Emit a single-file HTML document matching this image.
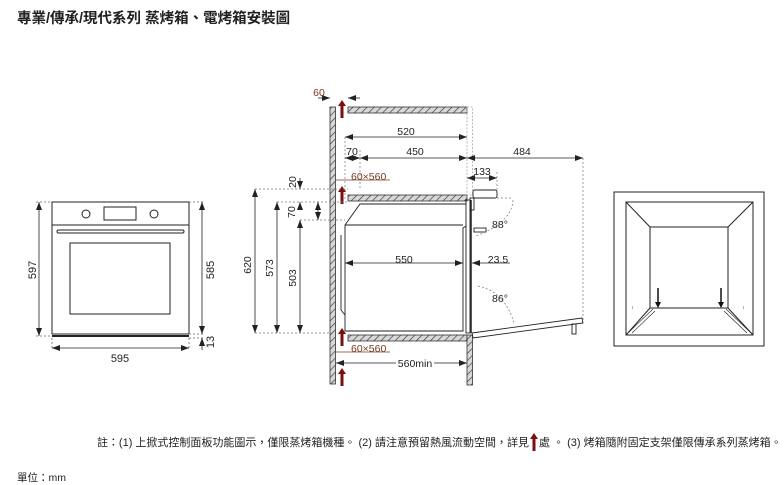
<!DOCTYPE html>
<html><head><meta charset="utf-8"><style>
html,body{margin:0;padding:0;background:#fff;}
svg{display:block;font-family:"Liberation Sans","Noto Sans CJK TC",sans-serif;}
</style></head><body>
<svg width="784" height="485" viewBox="0 0 784 485" xmlns="http://www.w3.org/2000/svg">
<defs>
<pattern id="h" width="5" height="5" patternUnits="userSpaceOnUse" patternTransform="rotate(45)">
<rect width="5" height="5" fill="#d8d8d8"/><line x1="0" y1="0" x2="0" y2="5" stroke="#333" stroke-width="1.3"/></pattern>
<marker id="a" markerWidth="8" markerHeight="6" refX="8" refY="3" orient="auto-start-reverse" markerUnits="userSpaceOnUse"><path d="M0,0 L8,3 L0,6z" fill="#222"/></marker>
<g id="ar"><path d="M-1.5,18 V6 H-4 L0,0 L4,6 H1.5 V18z" fill="#7a0f10"/></g>
</defs>
<text x="17" y="23" font-size="14.5" font-weight="bold" fill="#222" font-family="'Liberation Sans','Noto Sans CJK TC',sans-serif">專業/傳承/現代系列 蒸烤箱、電烤箱安裝圖</text>

<!-- front view -->
<g fill="none" stroke="#222" stroke-width="1">
<rect x="52" y="202" width="137" height="132"/>
<line x1="52" y1="225" x2="189" y2="225"/>
<circle cx="86" cy="214" r="4"/><circle cx="154" cy="214" r="4"/>
<rect x="104" y="207" width="32" height="13"/>
<rect x="57" y="230" width="127" height="3" rx="1.5"/>
<rect x="70" y="243" width="100" height="71"/>
<line x1="52" y1="336" x2="189" y2="336" stroke-width="2"/>
</g>
<g stroke="#666" stroke-width="0.8" stroke-dasharray="2,2" fill="none">
<line x1="36" y1="202" x2="52" y2="202"/><line x1="36" y1="336" x2="52" y2="336"/>
<line x1="189" y1="202" x2="204" y2="202"/><line x1="189" y1="334" x2="204" y2="334"/><line x1="189" y1="338" x2="204" y2="338"/>
<line x1="52" y1="338" x2="52" y2="350"/><line x1="189" y1="338" x2="189" y2="350"/>
</g>
<g stroke="#222" stroke-width="0.8" fill="none">
<line x1="39" y1="202" x2="39" y2="336" marker-start="url(#a)" marker-end="url(#a)"/>
<line x1="202" y1="202" x2="202" y2="334" marker-start="url(#a)" marker-end="url(#a)"/>
<line x1="202" y1="350" x2="202" y2="338" marker-end="url(#a)"/>
<line x1="52" y1="348" x2="189" y2="348" marker-start="url(#a)" marker-end="url(#a)"/>
</g>
<g font-size="11" fill="#222">
<text transform="translate(36,270) rotate(-90)" text-anchor="middle">597</text>
<text transform="translate(214,270) rotate(-90)" text-anchor="middle">585</text>
<text transform="translate(214,342) rotate(-90)" text-anchor="middle">13</text>
<text x="120" y="362" text-anchor="middle">595</text>
</g>

<!-- side view -->
<g stroke="#333" stroke-width="0.8">
<rect x="330" y="107" width="5.5" height="277" fill="url(#h)"/>
<rect x="348" y="107" width="119" height="6" fill="url(#h)"/>
<rect x="348" y="195" width="119" height="6" fill="url(#h)"/>
<rect x="348" y="335" width="119" height="6" fill="url(#h)"/>
<rect x="467" y="335" width="5.5" height="50" fill="url(#h)"/>
</g>
<rect x="467" y="107" width="5.5" height="88" fill="none" stroke="#aaa" stroke-width="0.8" stroke-dasharray="2,1.5"/>
<use href="#ar" x="342" y="100"/><use href="#ar" x="342" y="186"/><use href="#ar" x="342" y="328"/><use href="#ar" x="342" y="368"/>
<!-- oven body -->
<g fill="none" stroke="#222" stroke-width="0.9">
<path d="M345,225 V331 H463 V228 L466,226"/>
<path d="M345,225 L360,204 H466"/>
<path d="M341,235 V310 L345,315"/>
<line x1="345" y1="225" x2="463" y2="225"/>
<rect x="466" y="200" width="4" height="133"/>
<line x1="471" y1="200" x2="471" y2="333" stroke-width="1.5"/>
<rect x="473" y="190" width="24" height="8" rx="2"/>
<rect x="470" y="198" width="4" height="12"/>
<rect x="474" y="228" width="12" height="4"/>
<path d="M472,333 L582,318 L583,323 L473,338z"/>
<rect x="572" y="324" width="4" height="10"/>
</g>
<!-- dashed helpers -->
<g stroke="#777" stroke-width="0.7" stroke-dasharray="2,2" fill="none">
<line x1="255" y1="189" x2="348" y2="189"/><line x1="277" y1="202" x2="348" y2="202"/>
<line x1="300" y1="220" x2="345" y2="220"/><line x1="255" y1="333" x2="335" y2="333"/>
<line x1="583" y1="158" x2="583" y2="320"/>
<line x1="345" y1="137" x2="345" y2="200"/><line x1="360" y1="150" x2="360" y2="190"/>
<line x1="497" y1="172" x2="497" y2="190"/>
<line x1="497" y1="198" x2="513" y2="198"/>
<path d="M513,200 Q512,222 476,236"/>
<path d="M478,286 Q505,292 514,323"/>
</g>
<g stroke="#222" stroke-width="0.8" fill="none">
<line x1="345" y1="137" x2="467" y2="137" marker-start="url(#a)" marker-end="url(#a)"/>
<line x1="345" y1="158" x2="360" y2="158" marker-start="url(#a)" marker-end="url(#a)"/>
<line x1="360" y1="158" x2="467" y2="158" marker-start="url(#a)" marker-end="url(#a)"/>
<line x1="467" y1="158" x2="583" y2="158" marker-start="url(#a)" marker-end="url(#a)"/>
<line x1="467" y1="178" x2="497" y2="178" marker-start="url(#a)" marker-end="url(#a)"/>
<line x1="345" y1="263" x2="463" y2="263" marker-start="url(#a)" marker-end="url(#a)"/>
<line x1="510" y1="263" x2="472" y2="263" marker-end="url(#a)"/>
<line x1="336" y1="363" x2="467" y2="363" marker-start="url(#a)" marker-end="url(#a)"/>
<line x1="255" y1="189" x2="255" y2="333" marker-start="url(#a)" marker-end="url(#a)"/>
<line x1="277" y1="202" x2="277" y2="333" marker-start="url(#a)" marker-end="url(#a)"/>
<line x1="300" y1="220" x2="300" y2="333" marker-start="url(#a)" marker-end="url(#a)"/>
<line x1="300" y1="178" x2="300" y2="189" marker-end="url(#a)"/>
<line x1="300" y1="210" x2="300" y2="202" marker-end="url(#a)"/>
<line x1="318" y1="202" x2="318" y2="220" marker-start="url(#a)" marker-end="url(#a)"/>
<line x1="318" y1="98" x2="330" y2="98" marker-end="url(#a)"/>
<line x1="360" y1="98" x2="348" y2="98" marker-end="url(#a)"/>
<line x1="336" y1="180" x2="390" y2="180" stroke="#7a3a20"/>
<line x1="336" y1="352" x2="390" y2="352" stroke="#7a3a20"/>
</g>
<rect x="396" y="357" width="38" height="12" fill="#fff"/>
<g font-size="10.5" fill="#222">
<text x="406" y="135" text-anchor="middle">520</text>
<text x="352" y="155" text-anchor="middle">70</text>
<text x="415" y="155" text-anchor="middle">450</text>
<text x="522" y="155" text-anchor="middle">484</text>
<text x="482" y="175" text-anchor="middle">133</text>
<text x="404" y="263" text-anchor="middle">550</text>
<text x="498" y="263" text-anchor="middle">23.5</text>
<text x="500" y="228" text-anchor="middle">88°</text>
<text x="500" y="302" text-anchor="middle">86°</text>
<text x="415" y="367" text-anchor="middle">560min</text>
<text transform="translate(251,265) rotate(-90)" text-anchor="middle">620</text>
<text transform="translate(273,268) rotate(-90)" text-anchor="middle">573</text>
<text transform="translate(296,278) rotate(-90)" text-anchor="middle">503</text>
<text transform="translate(296,182) rotate(-90)" text-anchor="middle">20</text>
<text transform="translate(295,212) rotate(-90)" text-anchor="middle">70</text>
</g>
<g font-size="10.5" fill="#7a3a20">
<text x="319" y="96" text-anchor="middle">60</text>
<text x="351" y="180">60×560</text>
<text x="351" y="352">60×560</text>
</g>

<!-- right view -->
<g fill="none" stroke="#222" stroke-width="1">
<rect x="614" y="192" width="150" height="154"/>
<rect x="626" y="202" width="127" height="133"/>
<rect x="650" y="227" width="78" height="81"/>
<line x1="626" y1="202" x2="650" y2="227"/><line x1="753" y1="202" x2="728" y2="227"/>
<line x1="626" y1="335" x2="650" y2="308"/><line x1="753" y1="335" x2="728" y2="308"/>
<path d="M629,332 L653,309 M632,333 L655,311" stroke-width="0.6"/>
<path d="M750,332 L726,309 M747,333 L724,311" stroke-width="0.6"/>
</g>
<g stroke="#111" stroke-width="1.5"><line x1="658" y1="288" x2="658" y2="305"/><line x1="721" y1="288" x2="721" y2="305"/></g>
<path d="M655,302 L658,308 L661,302z M718,302 L721,308 L724,302z" fill="#111"/>
<g fill="#555" font-size="5"><text x="632" y="309">ı</text><text x="743" y="309">ı</text></g>

<text x="529" y="446" text-anchor="end" font-size="11" fill="#222" font-family="'Liberation Sans','Noto Sans CJK TC',sans-serif">註：(1) 上掀式控制面板功能圖示，僅限蒸烤箱機種。 (2) 請注意預留熱風流動空間，詳見</text>
<use href="#ar" x="534" y="433"/>
<text x="539" y="446" font-size="11" fill="#222" font-family="'Liberation Sans','Noto Sans CJK TC',sans-serif">處 。 (3) 烤箱隨附固定支架僅限傳承系列蒸烤箱。</text>
<text x="17" y="481" font-size="10.5" fill="#222" font-family="'Liberation Sans','Noto Sans CJK TC',sans-serif">單位：mm</text>
</svg>
</body></html>
